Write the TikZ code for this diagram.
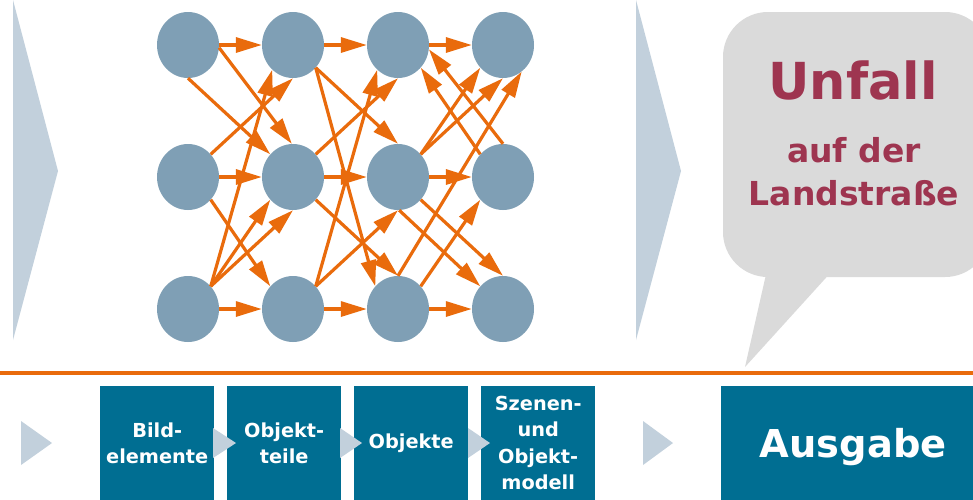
\documentclass[tikz,border=0pt]{standalone}
\usepackage{fontspec}
\setmainfont{DejaVu Sans}
\usetikzlibrary{arrows.meta,shapes.geometric}

\definecolor{neuron}{HTML}{7F9FB5}
\definecolor{wire}{HTML}{E96B0C}
\definecolor{chev}{HTML}{C2D0DC}
\definecolor{stage}{HTML}{006E92}
\definecolor{bubble}{HTML}{DADADA}
\definecolor{claim}{HTML}{9E3550}

\tikzset{
  neuronnode/.style={ellipse, fill=neuron, draw=none, inner sep=0pt,
    minimum width=62pt, minimum height=66pt},
  link/.style={draw=wire, line width=3.2pt,
    -{Triangle[length=26pt,width=15pt]}},
  stagebox/.style={rectangle, fill=stage, inner sep=0pt, text=white,
    minimum height=114pt, align=center,
    font=\bfseries\fontsize{19.3}{26.5}\selectfont},
  chevron/.style={fill=chev, draw=none},
  claimtext/.style={text=claim, inner sep=0pt, anchor=base,
    font=\bfseries\fontsize{33}{38}\selectfont}
}

\begin{document}
\begin{tikzpicture}[x=1pt,y=-1pt]
\useasboundingbox (0,0) rectangle (973,499);
\fill[white] (0,0) rectangle (973,499);

% large flow chevrons
\fill[chevron] (13,0) -- (58,171) -- (13,340) -- cycle;
\fill[chevron] (636,0) -- (681,171) -- (636,340) -- cycle;

% speech bubble
\fill[bubble, rounded corners=45pt] (723,12) rectangle (990,277);
\fill[bubble] (767,270) -- (745,367) -- (833,270) -- cycle;
\node[claimtext, font=\bfseries\fontsize{51}{58}\selectfont] (unfall) at (853,99) {Unfall};
\node[claimtext] (aufder) at (854,162) {auf der};
\node[claimtext] (strasse) at (854,205) {Landstraße};

% neurons
\foreach \r/\y in {a/45,b/177,c/309}{
  \foreach \c/\x in {1/188,2/293,3/398,4/503}{
    \node[neuronnode] (\r\c) at (\x,\y) {};
  }
}

% horizontal links
\foreach \r in {a,b,c}{
  \draw[link] (\r1.east) -- (\r2.west);
  \draw[link] (\r2.east) -- (\r3.west);
  \draw[link] (\r3.east) -- (\r4.west);
}

% layer 1 -> layer 2
\draw[link] (a1.-5) -- (b2.92);
\draw[link] (a1.-90) -- (b2.135);
\draw[link] (b1.45) -- (a2.-90);
\draw[link] (b1.-45) -- (c2.135);
\draw[link] (c1.45) -- (a2.230);
\draw[link] (c1.45) -- (b2.225);
\draw[link] (c1.45) -- (b2.-90);

% layer 2 -> layer 3
\draw[link] (a2.-45) -- (c3.135);
\draw[link] (a2.-45) -- (b3.90);
\draw[link] (b2.45) -- (a3.-90);
\draw[link] (b2.-45) -- (c3.90);
\draw[link] (c2.45) -- (a3.230);
\draw[link] (c2.45) -- (b3.-90);

% layer 3 <-> layer 4
\draw[link] (b4.90) -- (a3.-8);
\draw[link] (b4.135) -- (a3.-45);
\draw[link] (b3.45) -- (a4.225);
\draw[link] (b3.45) -- (a4.-90);
\draw[link] (c3.90) -- (a4.-55);
\draw[link] (b3.-45) -- (c4.90);
\draw[link] (b3.-88) -- (c4.135);
\draw[link] (c3.45) -- (b4.225);

% separator
\draw[wire, line width=4pt] (0,373) -- (973,373);

% processing stages
\node[stagebox, minimum width=114pt, anchor=north west] (bild) at (100,386) {Bild-\\elemente};
\node[stagebox, minimum width=114pt, anchor=north west] (teile) at (227,386) {Objekt-\\teile};
\node[stagebox, minimum width=114pt, anchor=north west] (objekte) at (354,386) {Objekte};
\node[stagebox, minimum width=114pt, anchor=north west] (szene) at (481,386) {Szenen-\\und\\Objekt-\\modell};
\node[stagebox, minimum width=264pt, anchor=north west, text depth=0pt,
  font=\bfseries\fontsize{38.4}{44}\selectfont] (ausgabe) at (721,386) {Ausgabe};

% small chevrons
\fill[chevron] (21,421) -- (52,443) -- (21,465) -- cycle;
\fill[chevron] (213,428) -- (236,443) -- (213,458) -- cycle;
\fill[chevron] (340,428) -- (362,443) -- (340,458) -- cycle;
\fill[chevron] (468,428) -- (490,443) -- (468,458) -- cycle;
\fill[chevron] (643,421) -- (673,443) -- (643,465) -- cycle;
\end{tikzpicture}
\end{document}
